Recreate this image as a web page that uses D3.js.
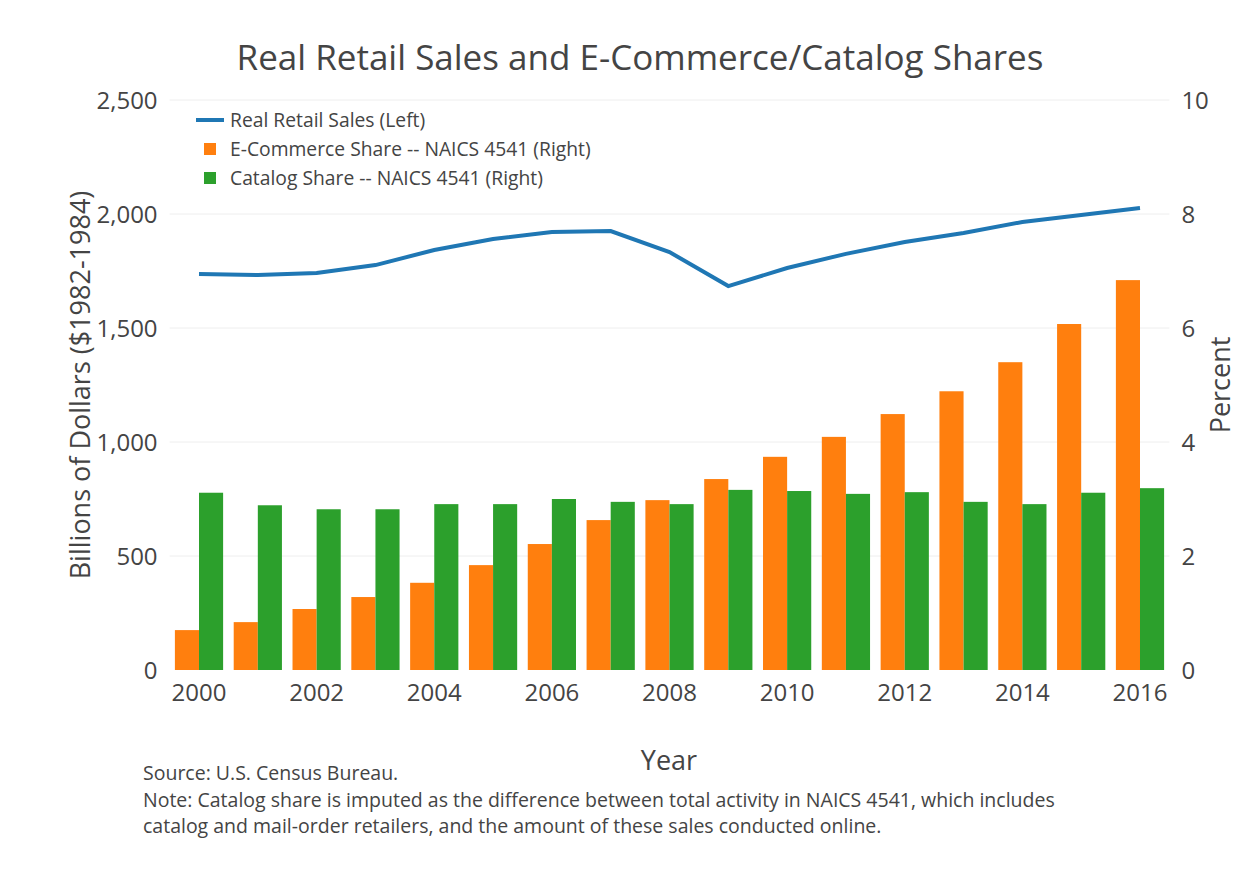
<!DOCTYPE html>
<html>
<head>
<meta charset="utf-8">
<style>
  body { margin: 0; background: #fff; }
  text { font-family: "Open Sans", sans-serif; fill: #444; }
</style>
</head>
<body>
<svg id="chart" width="1240" height="880"></svg>
<script src="https://cdn.jsdelivr.net/npm/d3@7"></script>
<script>
var years = d3.range(2000, 2017);
var retailSales = [1737, 1732, 1741, 1776, 1842, 1890, 1921, 1925, 1833, 1684, 1763, 1825, 1877, 1917, 1965, 1996, 2026];
var ecomShare = [0.70, 0.84, 1.07, 1.28, 1.53, 1.84, 2.21, 2.63, 2.98, 3.35, 3.74, 4.09, 4.49, 4.89, 5.40, 6.07, 6.84];
var catalogShare = [3.11, 2.89, 2.82, 2.82, 2.91, 2.91, 3.00, 2.95, 2.91, 3.16, 3.14, 3.09, 3.12, 2.95, 2.91, 3.11, 3.19];
var leftTicks = [0, 500, 1000, 1500, 2000, 2500];
var rightTicks = [0, 2, 4, 6, 8, 10];
var xTicks = [2000, 2002, 2004, 2006, 2008, 2010, 2012, 2014, 2016];

var svg = d3.select("#chart");
var plotLeft = 169.6, plotRight = 1169.4, plotTop = 100, plotBottom = 670;

var x = d3.scaleBand().domain(years).range([plotLeft, plotRight]).paddingInner(0.18).paddingOuter(0.09);
var yL = d3.scaleLinear().domain([0, 2500]).range([plotBottom, plotTop]);
var yR = d3.scaleLinear().domain([0, 10]).range([plotBottom, plotTop]);
var cx = function(yr) { return x(yr) + x.bandwidth() / 2; };

// grid
svg.append("g").selectAll("line").data(leftTicks.slice(1)).enter().append("line")
  .attr("x1", plotLeft).attr("x2", plotRight)
  .attr("y1", d => yL(d)).attr("y2", d => yL(d))
  .attr("stroke", "#eee");

// bars
var bw = x.bandwidth() / 2;
svg.append("g").selectAll("rect").data(years).enter().append("rect")
  .attr("x", d => x(d)).attr("width", bw)
  .attr("y", (d, i) => yR(ecomShare[i])).attr("height", (d, i) => plotBottom - yR(ecomShare[i]))
  .attr("fill", "#ff7f0e");
svg.append("g").selectAll("rect").data(years).enter().append("rect")
  .attr("x", d => x(d) + bw).attr("width", bw)
  .attr("y", (d, i) => yR(catalogShare[i])).attr("height", (d, i) => plotBottom - yR(catalogShare[i]))
  .attr("fill", "#2ca02c");

// line
svg.append("path").datum(years)
  .attr("d", d3.line().x(d => cx(d)).y((d, i) => yL(retailSales[i])))
  .attr("fill", "none").attr("stroke", "#1f77b4").attr("stroke-width", 4);

// axes
var fs = "24px";
var ax = svg.append("g").attr("transform", "translate(0," + plotBottom + ")")
  .call(d3.axisBottom(x).tickValues(xTicks).tickSize(0).tickPadding(14));
var ayl = svg.append("g").attr("transform", "translate(" + plotLeft + ",0)")
  .call(d3.axisLeft(yL).tickValues(leftTicks).tickSize(0).tickPadding(12));
var ayr = svg.append("g").attr("transform", "translate(" + plotRight + ",0)")
  .call(d3.axisRight(yR).tickValues(rightTicks).tickSize(0).tickPadding(12));
[ax, ayl, ayr].forEach(function(g) {
  g.select(".domain").remove();
  g.selectAll("text").style("font-size", fs).style("font-family", "Open Sans").attr("fill", "#444");
});
ayl.selectAll("text").attr("dy", "0.35em");
ayr.selectAll("text").attr("dy", "0.35em");

// titles
svg.append("text").attr("x", 640).attr("y", 70).attr("text-anchor", "middle")
  .style("font-size", "35px").text("Real Retail Sales and E-Commerce/Catalog Shares");
svg.append("text").attr("transform", "translate(90,385) rotate(-90)").attr("text-anchor", "middle")
  .style("font-size", "27px").text("Billions of Dollars ($1982-1984)");
svg.append("text").attr("transform", "translate(1230,385) rotate(-90)").attr("text-anchor", "middle")
  .style("font-size", "27px").text("Percent");
svg.append("text").attr("x", 669).attr("y", 770).attr("text-anchor", "middle")
  .style("font-size", "27px").text("Year");

var notes = ["Source: U.S. Census Bureau.",
  "Note: Catalog share is imputed as the difference between total activity in NAICS 4541, which includes",
  "catalog and mail-order retailers, and the amount of these sales conducted online."];
svg.append("g").selectAll("text").data(notes).enter().append("text")
  .attr("x", 143).attr("y", (d, i) => 780 + i * 26.5)
  .style("font-size", "19.5px").text(d => d);

// legend
var legend = [
  { label: "Real Retail Sales (Left)", color: "#1f77b4", type: "line" },
  { label: "E-Commerce Share -- NAICS 4541 (Right)", color: "#ff7f0e", type: "bar" },
  { label: "Catalog Share -- NAICS 4541 (Right)", color: "#2ca02c", type: "bar" }
];
var lg = svg.append("g").selectAll("g").data(legend).enter().append("g")
  .attr("transform", (d, i) => "translate(196," + (120 + i * 29) + ")");
lg.filter(d => d.type === "line").append("line")
  .attr("x1", 0).attr("x2", 28).attr("stroke", d => d.color).attr("stroke-width", 4);
lg.filter(d => d.type === "bar").append("rect")
  .attr("x", 8).attr("y", -6).attr("width", 12).attr("height", 12).attr("fill", d => d.color);
lg.append("text").attr("x", 34).attr("dy", "0.35em").style("font-size", "19.3px").text(d => d.label);
</script>
</body>
</html>
